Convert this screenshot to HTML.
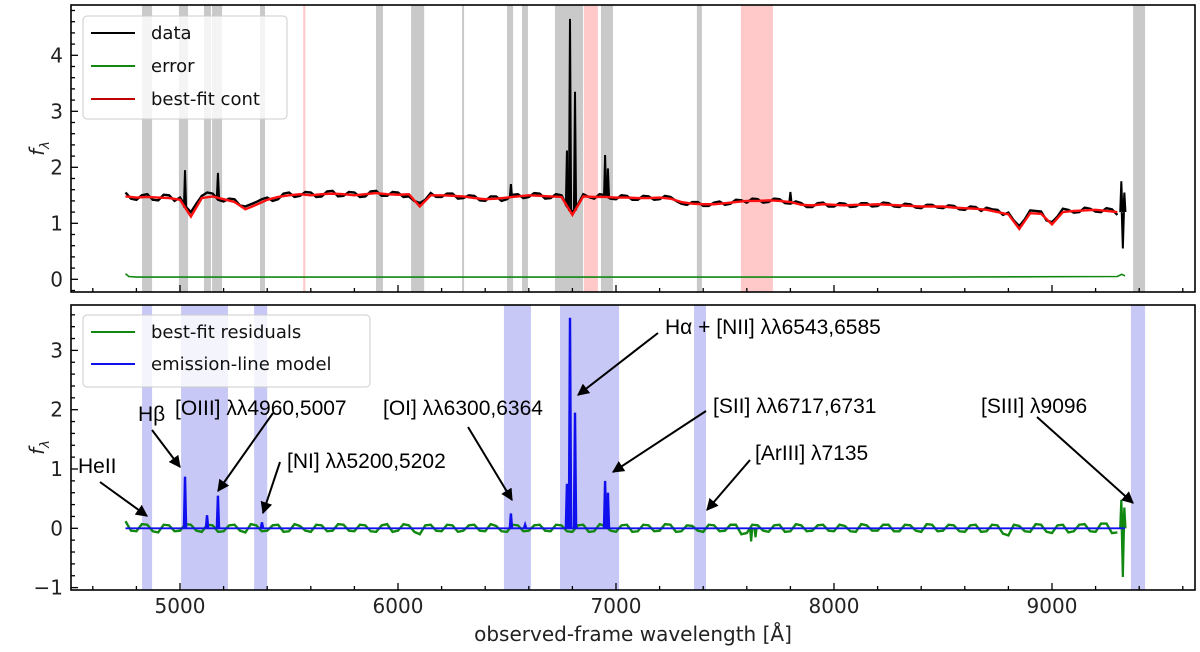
<!DOCTYPE html>
<html><head><meta charset="utf-8">
<style>
html,body{margin:0;padding:0;background:#fff;}
svg{display:block;}
.tk{font-family:"DejaVu Sans","Liberation Sans",sans-serif;font-size:20px;fill:#222;}
.lg{font-family:"DejaVu Sans","Liberation Sans",sans-serif;font-size:18px;fill:#111;}
.an{font-family:"Liberation Sans","DejaVu Sans",sans-serif;font-size:21px;fill:#000;}
</style></head>
<body>
<svg id="chart" width="1200" height="652" viewBox="0 0 1200 652" xmlns="http://www.w3.org/2000/svg">
<defs><marker id="ah" viewBox="0 0 10 10" refX="9" refY="5" markerWidth="6" markerHeight="6" orient="auto"><path d="M0,0 L10,5 L0,10 z" fill="#000"/></marker></defs>
<g id="top"></g>
<g id="bot"></g>
</svg>
<script>
const waveGrid=[4750,4800,4850,4900,4950,5000,5050,5100,5150,5200,
5250,5300,5350,5400,5450,5500,5550,5600,5650,5700,
5750,5800,5850,5900,5950,6000,6050,6100,6150,6200,
6250,6300,6350,6400,6450,6500,6550,6600,6650,6700,
6750,6800,6850,6900,6950,7000,7050,7100,7150,7200,
7250,7300,7350,7400,7450,7500,7550,7600,7650,7700,
7750,7800,7850,7900,7950,8000,8050,8100,8150,8200,
8250,8300,8350,8400,8450,8500,8550,8600,8650,8700,
8750,8800,8850,8900,8950,9000,9050,9100,9150,9200,
9250,9300];
const contTop=[1.48,1.46,1.47,1.46,1.45,1.42,1.12,1.45,1.48,1.43,
1.38,1.25,1.33,1.42,1.47,1.50,1.52,1.50,1.52,1.53,
1.52,1.50,1.52,1.54,1.52,1.51,1.52,1.30,1.50,1.50,
1.49,1.48,1.45,1.43,1.44,1.46,1.48,1.50,1.49,1.48,
1.47,1.15,1.48,1.47,1.47,1.46,1.46,1.45,1.45,1.46,
1.44,1.38,1.35,1.34,1.34,1.36,1.38,1.40,1.40,1.41,
1.40,1.38,1.33,1.32,1.34,1.33,1.32,1.33,1.33,1.34,
1.33,1.32,1.31,1.30,1.30,1.30,1.28,1.27,1.26,1.24,
1.20,1.16,0.90,1.18,1.17,0.98,1.20,1.22,1.23,1.24,
1.22,1.20];
const dataTop=[1.55,1.42,1.52,1.41,1.50,1.46,1.20,1.49,1.53,1.39,
1.43,1.30,1.38,1.46,1.43,1.55,1.49,1.55,1.48,1.58,
1.49,1.55,1.48,1.58,1.49,1.55,1.48,1.36,1.54,1.47,
1.53,1.45,1.49,1.40,1.48,1.43,1.52,1.47,1.53,1.45,
1.50,1.20,1.52,1.44,1.50,1.43,1.49,1.42,1.48,1.43,
1.47,1.35,1.38,1.31,1.37,1.33,1.42,1.37,1.43,1.38,
1.43,1.35,1.36,1.29,1.37,1.30,1.35,1.30,1.36,1.31,
1.36,1.29,1.34,1.27,1.33,1.27,1.31,1.24,1.29,1.28,
1.24,1.19,0.95,1.23,1.21,1.02,1.26,1.19,1.28,1.21,
1.27,1.15];
const dataTopMid=[1.44,1.50,1.42,1.51,1.40,1.30,1.35,1.55,1.42,1.44,
1.32,1.34,1.43,1.40,1.53,1.47,1.56,1.47,1.57,1.48,
1.56,1.47,1.57,1.49,1.56,1.47,1.40,1.42,1.47,1.53,
1.44,1.50,1.41,1.48,1.40,1.51,1.45,1.54,1.44,1.52,
1.30,1.33,1.47,1.52,1.44,1.50,1.42,1.49,1.42,1.49,
1.40,1.33,1.38,1.31,1.39,1.35,1.41,1.44,1.37,1.44,
1.36,1.39,1.29,1.36,1.30,1.36,1.29,1.36,1.30,1.37,
1.30,1.35,1.28,1.33,1.28,1.32,1.25,1.30,1.22,1.25,
1.15,1.05,1.07,1.22,1.05,1.12,1.24,1.20,1.26,1.20,
1.25];
const residBot=[0.12,-0.05,0.06,-0.07,0.05,-0.04,0.06,-0.06,0.05,-0.05,
0.06,-0.07,0.05,-0.04,0.06,-0.05,0.04,-0.06,0.05,-0.04,
0.06,-0.05,0.05,-0.06,0.07,-0.04,0.05,-0.10,0.06,-0.05,
0.05,-0.04,0.06,-0.05,0.04,-0.06,0.05,-0.04,0.06,-0.05,
0.05,-0.06,0.06,-0.05,0.04,-0.06,0.06,-0.05,0.05,-0.04,
0.06,-0.05,0.04,-0.06,0.05,-0.04,0.06,-0.08,0.05,-0.06,
0.06,-0.05,0.05,-0.04,0.06,-0.05,0.04,-0.06,0.05,-0.04,
0.06,-0.05,0.05,-0.06,0.06,-0.04,0.05,-0.06,0.06,-0.05,
0.05,-0.12,0.04,-0.06,0.06,-0.08,0.06,-0.05,0.07,-0.06,
0.08,-0.07];
const residMid=[-0.04,0.07,-0.05,0.06,-0.05,0.07,-0.04,0.06,-0.06,0.05,
-0.04,0.07,-0.05,0.05,-0.06,0.07,-0.04,0.06,-0.05,0.07,
-0.04,0.06,-0.05,0.05,-0.06,0.07,-0.06,0.05,-0.04,0.06,
-0.06,0.05,-0.04,0.07,-0.05,0.06,-0.05,0.05,-0.04,0.06,
-0.05,0.05,-0.06,0.07,-0.04,0.05,-0.06,0.06,-0.05,0.07,
-0.06,0.05,-0.04,0.06,-0.05,0.06,-0.10,0.06,-0.04,0.05,
-0.06,0.07,-0.05,0.05,-0.04,0.06,-0.05,0.07,-0.04,0.06,
-0.05,0.06,-0.04,0.07,-0.05,0.06,-0.05,0.05,-0.06,0.06,
-0.09,0.06,-0.05,0.07,-0.06,0.05,-0.07,0.06,-0.05,0.08,
-0.08];
const spikeTopWave=[5023,5174,6518,6775,6789,6812,6950,6963,7800,9318,9325,9332];
const spikeTopFlux=[1.95,1.90,1.70,2.30,4.65,3.35,2.22,1.98,1.56,1.75,0.55,1.55];
const modelWave=[5023,5124,5174,5376,6518,6583,6775,6789,6812,6950,6963];
const modelFlux=[0.87,0.22,0.55,0.10,0.25,0.06,0.75,3.55,1.95,0.80,0.60];
const residSpikeWave=[7620,7640,9318,9325,9332];
const residSpikeFlux=[-0.22,-0.15,0.48,-0.82,0.35];
const errWave=[4750,4765,4800,8500,9300,9320,9335];
const errFlux=[0.10,0.05,0.04,0.04,0.05,0.09,0.06];
const grayBands=[[4826,4872],[4995,5037],[5110,5142],[5147,5193],[5367,5390],[5899,5931],[6060,6120],[6294,6303],[6500,6528],[6569,6596],[6720,6849],[6931,6986],[7371,7394],[9372,9427]];
const redBands=[[5565,5575],[6853,6917],[7573,7720]];
const blueBands=[[4826,4872],[5005,5220],[5340,5400],[6486,6610],[6743,7014],[7358,7413],[9362,9427]];
const xTicks=[5000,6000,7000,8000,9000];
const topYTicks=[0,1,2,3,4];
const botYTicks=[-1,0,1,2,3];

const NS="http://www.w3.org/2000/svg";
const L=71,R=1195;
const X=l=>L+(l-4500)*(R-L)/(9656-4500);
const T={top:5,bot:292,y:v=>279.3-v*56,ymin:-0.23,ymax:4.9};
const B={top:305,bot:590,y:v=>528.3-v*59.3,ymin:-1.04,ymax:3.77};
function mk(tag,parent,attrs){const e=document.createElementNS(NS,tag);for(const k in attrs)e.setAttribute(k,attrs[k]);parent.appendChild(e);return e;}
const gT=document.getElementById('top'),gB=document.getElementById('bot');

// interleave grid samples with midpoint samples (midpoint wavelengths halfway between grid points)
function interleave(a,mid){const w=[],v=[];for(let i=0;i<waveGrid.length;i++){w.push(waveGrid[i]);v.push(a[i]);if(i<mid.length){w.push((waveGrid[i]+waveGrid[i+1])/2);v.push(mid[i]);}}return [w,v];}

function bands(g,P,list,color,name){list.forEach(b=>{const r=mk('rect',g,{x:X(b[0]),y:P.top,width:X(b[1])-X(b[0]),height:P.bot-P.top,fill:color});

});}
function poly(g,P,w,v,color,sw,name){const p=mk('polyline',g,{points:w.map((l,i)=>X(l)+','+P.y(v[i])).join(' '),fill:'none',stroke:color,'stroke-width':sw,'stroke-linejoin':'miter'});

}
function spikes(g,P,w,v,base,color,sw,name){w.forEach((l,i)=>{const b=base(l);const p=mk('polyline',g,{points:X(l-5)+','+P.y(b)+' '+X(l)+','+P.y(v[i])+' '+X(l+5)+','+P.y(b),fill:'none',stroke:color,'stroke-width':sw});

});}
function contAt(l){let i=0;while(i<waveGrid.length-1&&waveGrid[i+1]<l)i++;if(i>=waveGrid.length-1)return contTop[contTop.length-1];const t=(l-waveGrid[i])/(waveGrid[i+1]-waveGrid[i]);return contTop[i]+(contTop[i+1]-contTop[i])*t;}

function axes(g,P,yTicks,name,labels){
  const fr=mk('rect',g,{x:L,y:P.top,width:R-L,height:P.bot-P.top,fill:'none',stroke:'#000','stroke-width':1.6});
  
  
  for(let l=4600;l<=9600;l+=200){const maj=xTicks.includes(l);const t=mk('line',g,{x1:X(l),x2:X(l),y1:P.bot,y2:P.bot-(maj?7:4),stroke:'#000','stroke-width':1.3});
  
  }
  if(labels)xTicks.forEach(l=>{const t=mk('text',g,{x:X(l),y:P.bot+23,'text-anchor':'middle',class:'tk'});t.textContent=l;
  
  });
  for(let v=Math.ceil(P.ymin*5)/5;v<=P.ymax;v+=0.2){const vv=Math.round(v*5)/5;const maj=Math.abs(vv-Math.round(vv))<1e-6;const t=mk('line',g,{x1:L,x2:L+(maj?7:4),y1:P.y(vv),y2:P.y(vv),stroke:'#000','stroke-width':1.3});
  
  }
  yTicks.forEach(v=>{const t=mk('text',g,{x:L-8,y:P.y(v)+7,'text-anchor':'end',class:'tk'});t.textContent=v<0?'\u2212'+(-v):v;
  
  });
  const yc=(P.top+P.bot)/2;const yl=mk('text',g,{x:0,y:0,transform:`translate(44,${yc}) rotate(-90)`,'text-anchor':'middle',class:'tk','font-style':'italic'});
  yl.innerHTML='f<tspan font-size="13" dy="5">λ</tspan>';
  
  
}

// top panel
bands(gT,T,grayBands,'#c9c9c9','masked-band');
bands(gT,T,redBands,'#ffc9c9','sky-band');
poly(gT,T,errWave,errFlux,'#118811',1.6,'error-line');
const dT=interleave(dataTop,dataTopMid);
poly(gT,T,dT[0],dT[1],'#000',2.4,'data-line');
spikes(gT,T,spikeTopWave,spikeTopFlux,contAt,'#000',2,'data-emission-spike');
poly(gT,T,waveGrid,contTop,'#ff1010',2.4,'best-fit-cont-line');
axes(gT,T,topYTicks,'top',false);

// bottom panel
bands(gB,B,blueBands,'#c8c8f6','emission-band');
const dB=interleave(residBot,residMid);
poly(gB,B,dB[0],dB[1],'#118811',2.4,'residuals-line');
spikes(gB,B,residSpikeWave,residSpikeFlux,()=>0,'#118811',2.2,'residual-spike');
poly(gB,B,[4750,9335],[0,0],'#1010ee',1.8,'model-baseline');
spikes(gB,B,modelWave,modelFlux,()=>0,'#1010ee',2.4,'emission-model-peak');
axes(gB,B,botYTicks,'bottom',true);
const xt=mk('text',gB,{x:(L+R)/2,y:641,'text-anchor':'middle',class:'tk'});xt.textContent='observed-frame wavelength [Å]';



// legends
function legend(g,x,y,w,h,items,name){const bx=mk('rect',g,{x:x,y:y,width:w,height:h,rx:4,fill:'#fff','fill-opacity':0.8,stroke:'#ccc','stroke-width':1});


items.forEach((it,i)=>{const yy=y+17+i*it[2];const ln=mk('line',g,{x1:x+8,x2:x+52,y1:yy,y2:yy,stroke:it[1],'stroke-width':2});


const t=mk('text',g,{x:x+68,y:yy+6,class:'lg'});t.textContent=it[0];

});}
legend(gT,83,16,204,103,[['data','#000',33],['error','#118811',33],['best-fit cont','#c00000',33]],'top-legend');
legend(gB,83,315,287,72,[['best-fit residuals','#118811',32],['emission-line model','#1010ee',32]],'bottom-legend');

// annotations
const ann=[['HeII',78,473,100,482,147,516],['Hβ',138,421,152,430,180,467],['[OIII] λλ4960,5007',175,415,273,413,218,491],
['[NI] λλ5200,5202',287,468,280,462,263,513],['[OI] λλ6300,6364',383,415,468,427,512,500],['Hα  + [NII] λλ6543,6585',665,334,658,333,578,395],
['[SII] λλ6717,6731',713,413,706,411,613,472],['[ArIII] λ7135',755,460,750,460,707,510],['[SIII] λ9096',981,413,1037,417,1133,503]];
ann.forEach(a=>{const t=mk('text',gB,{x:a[1],y:a[2],class:'an'});t.textContent=a[0];


const ar=mk('line',gB,{x1:a[3],y1:a[4],x2:a[5],y2:a[6],stroke:'#000','stroke-width':2,'marker-end':'url(#ah)'});

});
</script>
</body></html>
